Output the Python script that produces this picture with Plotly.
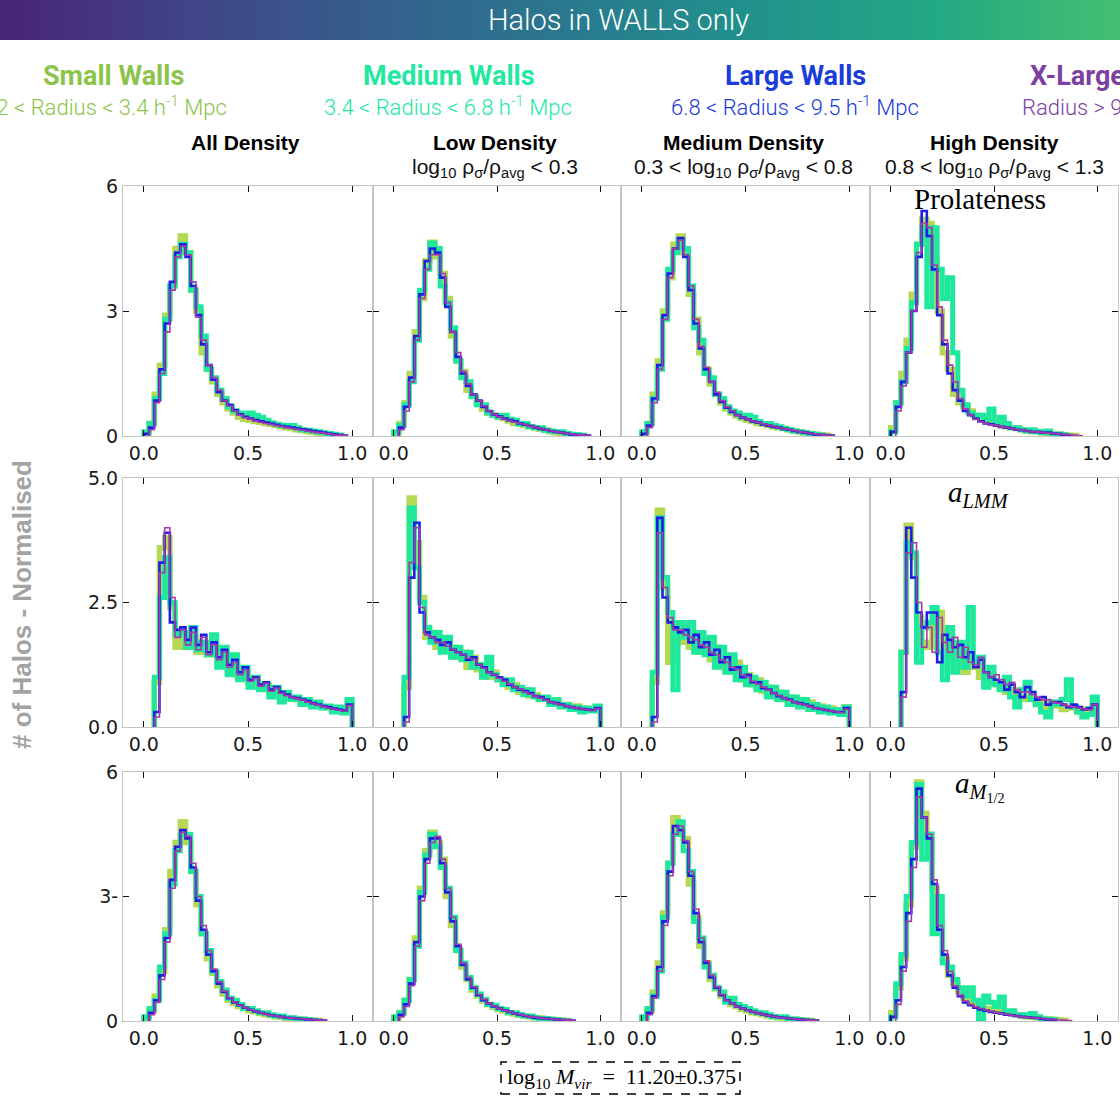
import plotly.graph_objects as go

W, H = 1120, 1097
BIN_WIDTH = 0.025

# ---------------- DATA (normalised histograms, bin width 0.025 starting at 0) ----------------
# Row 1: Prolateness
prol_all_small  = [0.0,0.3,1.0,1.7,2.9,3.6,4.5,4.8,4.4,3.5,3.0,2.0,1.6,1.3,1.0,0.8,0.65,0.55,0.45,0.4,0.38,0.35,0.33,0.3,0.28,0.25,0.22,0.2,0.18,0.15,0.13,0.11,0.09,0.07,0.05,0.04,0.02,0.01]
prol_all_medium = [0.1,0.3,0.9,1.5,2.8,3.6,4.3,4.6,4.4,3.5,3.1,2.4,1.6,1.4,1.1,0.9,0.7,0.6,0.55,0.5,0.55,0.5,0.45,0.38,0.32,0.28,0.26,0.24,0.25,0.2,0.15,0.14,0.12,0.1,0.08,0.06,0.04,0.02]
prol_all_large  = [0.05,0.2,0.85,1.6,2.7,3.7,4.4,4.6,4.3,3.6,2.9,2.2,1.7,1.35,1.05,0.85,0.75,0.62,0.52,0.46,0.42,0.38,0.35,0.32,0.3,0.27,0.24,0.22,0.2,0.18,0.16,0.14,0.12,0.1,0.08,0.06,0.04,0.03,0.01]
prol_all_xlarge = [0.0,0.15,0.8,1.5,2.5,3.5,4.3,4.55,4.35,3.7,2.85,2.3,1.7,1.4,1.1,0.85,0.72,0.6,0.5,0.44,0.4,0.36,0.33,0.3,0.28,0.25,0.23,0.2,0.18,0.16,0.14,0.12,0.1,0.08,0.07,0.05,0.03,0.02,0.01]

prol_low_small  = [0.05,0.3,0.8,1.5,2.5,3.3,4.2,4.65,4.3,3.9,3.3,2.4,1.8,1.55,1.1,0.95,0.8,0.65,0.55,0.5,0.45,0.42,0.36,0.3,0.3,0.25,0.22,0.2,0.16,0.14,0.1,0.08,0.06,0.05,0.03,0.02]
prol_low_medium = [0.1,0.25,0.75,1.3,2.3,3.5,4.0,4.63,4.5,3.6,3.2,2.6,1.8,1.4,1.3,0.95,0.75,0.75,0.55,0.5,0.45,0.5,0.4,0.38,0.28,0.3,0.22,0.2,0.2,0.14,0.12,0.1,0.1,0.06,0.04,0.03,0.02]
prol_low_large  = [0.0,0.2,0.7,1.4,2.4,3.4,4.2,4.5,4.4,3.8,3.1,2.5,1.9,1.5,1.2,1.0,0.85,0.7,0.6,0.52,0.47,0.42,0.38,0.35,0.3,0.27,0.24,0.2,0.17,0.15,0.12,0.1,0.08,0.06,0.04,0.03,0.02,0.01]
prol_low_xlarge = [0.0,0.15,0.6,1.3,2.3,3.3,4.0,4.35,4.35,3.9,3.2,2.5,2.0,1.55,1.25,1.0,0.85,0.72,0.6,0.52,0.46,0.4,0.37,0.33,0.3,0.27,0.23,0.2,0.18,0.15,0.12,0.1,0.08,0.06,0.05,0.03,0.02,0.01]

prol_med_small  = [0.05,0.3,1.0,1.8,3.0,3.8,4.6,4.8,4.4,3.4,2.8,2.0,1.6,1.25,1.0,0.8,0.65,0.55,0.48,0.42,0.38,0.35,0.3,0.28,0.25,0.22,0.2,0.18,0.15,0.12,0.1,0.08,0.06,0.04,0.03,0.02]
prol_med_medium = [0.1,0.3,0.9,1.6,2.8,4.0,4.4,4.7,4.5,3.6,2.6,2.3,1.5,1.4,1.0,0.9,0.7,0.6,0.55,0.45,0.5,0.45,0.35,0.3,0.3,0.25,0.22,0.18,0.15,0.12,0.1,0.08,0.06,0.04,0.02]
prol_med_large  = [0.05,0.25,0.9,1.7,2.9,3.9,4.5,4.75,4.3,3.5,2.7,2.1,1.6,1.3,1.0,0.82,0.68,0.58,0.5,0.44,0.4,0.35,0.32,0.28,0.25,0.22,0.2,0.17,0.15,0.12,0.1,0.08,0.06,0.04,0.03,0.02,0.01]
prol_med_xlarge = [0.0,0.2,0.8,1.6,2.8,3.8,4.5,4.7,4.35,3.6,2.8,2.15,1.65,1.3,1.05,0.85,0.7,0.6,0.5,0.44,0.4,0.36,0.32,0.29,0.26,0.23,0.2,0.17,0.15,0.13,0.1,0.08,0.06,0.05,0.03,0.02,0.01]

prol_high_small  = [0.2,0.8,1.5,2.3,3.4,4.6,5.2,5.1,4.2,3.0,2.0,1.6,1.0,0.8,0.7,0.6,0.5,0.45,0.4,0.35,0.3,0.25,0.22,0.2,0.18,0.15,0.12,0.1,0.1,0.08,0.06,0.05,0.04,0.03,0.02,0.01]
prol_high_medium = [0.1,0.8,1.3,2.1,3.2,4.6,5.0,3.1,5.0,4.0,3.3,3.8,2.0,1.1,0.75,0.55,0.5,0.5,0.4,0.65,0.35,0.45,0.3,0.2,0.2,0.15,0.12,0.15,0.1,0.08,0.12,0.05,0.05,0.03]
prol_high_large  = [0.1,0.7,1.3,2.0,3.0,4.3,5.4,4.8,4.0,2.9,2.2,1.5,1.1,0.85,0.6,0.5,0.42,0.35,0.3,0.28,0.25,0.22,0.2,0.18,0.15,0.14,0.12,0.1,0.1,0.08,0.08,0.06,0.05,0.03,0.02]
prol_high_xlarge = [0.0,0.6,1.2,2.0,3.0,4.4,5.1,5.0,4.1,3.1,2.3,1.7,1.3,0.9,0.65,0.5,0.4,0.34,0.3,0.27,0.25,0.22,0.2,0.18,0.15,0.14,0.12,0.1,0.1,0.08,0.07,0.06,0.05,0.04,0.03,0.02,0.01]

# Row 2: a_LMM
lmm_all_small  = [0,0,0.9,3.6,3.8,2.4,1.6,1.85,1.6,1.8,1.5,1.7,1.45,1.6,1.3,1.5,1.15,1.3,1.0,1.1,0.9,0.95,0.8,0.85,0.72,0.75,0.65,0.62,0.58,0.55,0.52,0.5,0.45,0.43,0.4,0.38,0.36,0.34,0.3,0.42]
lmm_all_medium = [0,0,1.0,2.6,3.4,2.5,1.85,1.9,1.6,2.0,1.55,1.7,1.45,1.85,1.2,1.6,1.05,1.45,0.95,1.2,0.8,1.0,0.75,0.85,0.6,0.8,0.5,0.7,0.55,0.6,0.45,0.55,0.4,0.5,0.38,0.42,0.3,0.4,0.28,0.55]
lmm_all_large  = [0,0,0.3,3.3,3.9,2.1,1.95,2.0,1.75,2.0,1.65,1.85,1.5,1.7,1.4,1.55,1.25,1.35,1.1,1.2,0.95,1.0,0.85,0.9,0.75,0.8,0.7,0.65,0.6,0.58,0.55,0.52,0.48,0.45,0.42,0.4,0.37,0.35,0.33,0.45]
lmm_all_xlarge = [0,0,0.2,3.1,4.0,2.6,1.8,1.95,1.65,1.9,1.55,1.8,1.45,1.65,1.35,1.5,1.2,1.3,1.05,1.15,0.92,0.98,0.82,0.88,0.72,0.78,0.68,0.63,0.6,0.57,0.54,0.5,0.47,0.44,0.41,0.38,0.36,0.34,0.32,0.43]

lmm_low_small  = [0,0,0.8,4.6,3.7,2.6,1.8,1.9,1.6,1.75,1.55,1.6,1.4,1.5,1.2,1.4,1.15,1.25,1.0,1.1,0.95,0.9,0.8,0.85,0.7,0.75,0.62,0.65,0.55,0.58,0.5,0.52,0.45,0.45,0.4,0.42,0.38,0.36,0.35,0.4]
lmm_low_medium = [0,0,1.0,4.4,3.2,2.5,2.0,1.7,1.9,1.5,1.8,1.4,1.6,1.35,1.5,1.2,1.25,1.0,1.4,1.05,0.95,0.85,0.95,0.75,0.8,0.65,0.75,0.6,0.55,0.6,0.45,0.55,0.4,0.45,0.35,0.4,0.3,0.38,0.32,0.42]
lmm_low_large  = [0,0,0.2,3.0,4.1,2.3,1.9,1.8,1.75,1.65,1.7,1.55,1.5,1.45,1.35,1.4,1.25,1.2,1.1,1.05,1.0,0.95,0.85,0.8,0.75,0.72,0.68,0.62,0.6,0.55,0.5,0.48,0.45,0.42,0.4,0.38,0.36,0.35,0.34,0.38]
lmm_low_xlarge = [0,0,0.1,3.3,4.0,2.4,1.85,1.8,1.7,1.7,1.62,1.55,1.5,1.45,1.38,1.35,1.25,1.18,1.1,1.05,0.98,0.92,0.86,0.8,0.76,0.7,0.66,0.62,0.58,0.54,0.5,0.47,0.44,0.42,0.4,0.38,0.36,0.35,0.33,0.37]

lmm_med_small  = [0,0,0.9,4.35,2.8,1.3,2.0,1.7,2.0,1.6,1.8,1.5,1.75,1.35,1.6,1.25,1.4,1.1,1.3,0.95,1.05,0.85,0.95,0.72,0.8,0.65,0.7,0.55,0.6,0.48,0.55,0.45,0.5,0.4,0.42,0.35,0.38,0.3,0.32,0.4]
lmm_med_medium = [0,0,1.1,4.2,3.0,2.3,0.75,2.1,1.8,2.1,1.5,1.9,1.45,1.8,1.2,1.6,1.1,1.45,0.95,1.2,0.85,1.0,0.75,0.9,0.6,0.8,0.55,0.7,0.45,0.6,0.4,0.55,0.35,0.45,0.3,0.4,0.28,0.35,0.25,0.4]
lmm_med_large  = [0,0,0.2,4.2,2.6,2.1,2.0,1.9,1.95,1.7,1.85,1.6,1.7,1.45,1.55,1.3,1.4,1.15,1.2,1.0,1.05,0.9,0.9,0.78,0.75,0.68,0.62,0.58,0.55,0.5,0.48,0.45,0.42,0.38,0.36,0.34,0.32,0.3,0.3,0.38]
lmm_med_xlarge = [0,0,0.1,3.9,2.8,2.2,1.95,1.95,1.85,1.8,1.75,1.65,1.6,1.5,1.45,1.35,1.3,1.2,1.15,1.05,1.0,0.92,0.86,0.8,0.74,0.68,0.63,0.58,0.54,0.5,0.47,0.44,0.41,0.38,0.36,0.34,0.32,0.3,0.29,0.36]

lmm_high_small  = [0,0,1.5,4.05,3.4,2.2,1.7,1.6,2.0,2.3,1.6,1.8,1.3,1.5,1.1,1.3,1.2,1.0,0.95,1.05,0.9,0.8,0.7,0.75,0.65,0.6,0.55,0.58,0.45,0.5,0.4,0.48,0.42,0.35,0.38,0.4,0.3,0.36,0.32,0.42]
lmm_high_medium = [0,0,1.5,3.7,3.5,1.3,2.0,2.1,2.4,1.5,0.95,2.0,1.1,1.7,1.2,2.4,1.3,1.4,0.8,1.2,0.85,0.75,1.0,0.6,0.4,0.75,0.9,0.55,0.45,0.3,0.2,0.5,0.45,0.55,0.95,0.4,0.3,0.2,0.25,0.6]
lmm_high_large  = [0,0,0.7,4.0,3.0,2.3,2.0,2.3,2.3,1.3,1.85,1.75,1.6,1.65,1.4,1.5,1.2,1.35,1.1,1.0,0.95,0.9,0.75,0.85,0.7,0.6,0.8,0.7,0.55,0.6,0.45,0.5,0.5,0.45,0.4,0.45,0.4,0.35,0.38,0.45]
lmm_high_xlarge = [0,0,0.6,3.5,3.7,2.5,1.6,2.0,1.5,2.2,1.7,1.5,1.8,1.4,1.6,1.3,1.25,1.4,1.1,1.0,1.05,0.95,0.85,0.9,0.75,0.7,0.7,0.65,0.6,0.55,0.55,0.5,0.48,0.45,0.42,0.4,0.38,0.36,0.34,0.45]

# Row 3: a_M1/2
mhalf_all_small  = [0.05,0.25,0.6,1.2,2.2,3.6,4.3,4.8,4.3,3.6,2.8,2.1,1.5,1.15,0.85,0.65,0.5,0.42,0.35,0.3,0.25,0.22,0.18,0.15,0.13,0.1,0.09,0.07,0.06,0.05,0.04,0.03,0.02,0.01]
mhalf_all_medium = [0.1,0.3,0.5,1.3,2.1,3.3,4.1,4.5,4.5,3.6,3.0,2.1,1.7,1.2,0.95,0.75,0.55,0.5,0.4,0.3,0.3,0.25,0.2,0.2,0.15,0.12,0.12,0.08,0.08,0.05,0.05,0.03,0.02]
mhalf_all_large  = [0.0,0.2,0.5,1.1,2.0,3.4,4.2,4.6,4.4,3.7,2.9,2.2,1.6,1.2,0.9,0.7,0.55,0.45,0.38,0.32,0.27,0.23,0.2,0.17,0.14,0.12,0.1,0.08,0.07,0.06,0.05,0.04,0.03,0.02,0.01]
mhalf_all_xlarge = [0.0,0.15,0.45,1.0,1.9,3.2,4.1,4.55,4.45,3.8,3.0,2.3,1.7,1.25,0.95,0.72,0.56,0.46,0.38,0.32,0.27,0.23,0.2,0.17,0.14,0.12,0.1,0.08,0.07,0.06,0.05,0.04,0.03,0.02,0.01]

mhalf_low_small  = [0.05,0.2,0.5,1.0,2.0,3.2,4.1,4.55,4.3,3.9,3.0,2.3,1.7,1.3,1.0,0.75,0.6,0.48,0.4,0.33,0.28,0.24,0.2,0.17,0.14,0.12,0.1,0.08,0.07,0.05,0.04,0.03,0.02,0.01]
mhalf_low_medium = [0.1,0.2,0.5,1.0,1.8,3.1,4.0,4.5,4.2,3.7,3.2,2.5,1.7,1.4,1.05,0.8,0.65,0.52,0.4,0.38,0.3,0.28,0.2,0.2,0.15,0.12,0.12,0.08,0.06,0.06,0.04,0.03,0.02]
mhalf_low_large  = [0.0,0.15,0.4,0.9,1.9,3.0,3.9,4.4,4.4,3.8,3.1,2.4,1.8,1.35,1.0,0.8,0.62,0.5,0.42,0.35,0.3,0.26,0.22,0.18,0.15,0.12,0.1,0.08,0.07,0.06,0.05,0.04,0.03,0.02,0.01]
mhalf_low_xlarge = [0.0,0.1,0.35,0.85,1.8,2.9,3.8,4.3,4.45,3.9,3.2,2.5,1.85,1.4,1.05,0.82,0.64,0.52,0.43,0.36,0.3,0.26,0.22,0.18,0.15,0.13,0.1,0.09,0.07,0.06,0.05,0.04,0.03,0.02,0.01]

mhalf_med_small  = [0.05,0.25,0.7,1.4,2.6,3.8,4.9,4.5,4.4,3.3,2.5,1.8,1.4,1.0,0.78,0.6,0.5,0.4,0.35,0.28,0.25,0.2,0.18,0.15,0.12,0.1,0.08,0.07,0.05,0.04,0.03,0.02,0.01]
mhalf_med_medium = [0.1,0.3,0.6,1.2,2.5,3.8,4.5,4.8,4.1,3.6,2.4,2.0,1.3,1.1,0.8,0.7,0.45,0.55,0.4,0.35,0.3,0.25,0.2,0.2,0.15,0.1,0.1,0.1,0.05,0.05,0.03,0.02]
mhalf_med_large  = [0.0,0.2,0.6,1.3,2.4,3.6,4.7,4.6,4.3,3.5,2.6,1.9,1.4,1.05,0.8,0.62,0.5,0.42,0.35,0.3,0.26,0.22,0.19,0.16,0.13,0.11,0.09,0.08,0.06,0.05,0.04,0.03,0.02,0.01]
mhalf_med_xlarge = [0.0,0.15,0.55,1.2,2.3,3.5,4.5,4.7,4.35,3.6,2.7,2.0,1.45,1.1,0.82,0.64,0.5,0.42,0.35,0.3,0.26,0.22,0.19,0.16,0.13,0.11,0.09,0.08,0.06,0.05,0.04,0.03,0.02,0.01]

mhalf_high_small  = [0.2,0.8,1.5,2.8,4.2,5.76,5.0,4.5,3.2,2.4,1.5,1.1,0.9,0.7,0.55,0.45,0.4,0.35,0.3,0.28,0.25,0.22,0.2,0.18,0.15,0.12,0.1,0.09,0.08,0.06,0.05,0.04,0.03,0.02]
mhalf_high_medium = [0.1,0.9,1.6,3.0,4.3,5.7,3.9,4.5,2.1,3.0,1.4,1.3,1.0,0.8,0.6,0.8,0.5,0.0,0.6,0.45,0.35,0.58,0.2,0.25,0.15,0.15,0.12,0.18,0.1,0.05,0.05,0.03]
mhalf_high_large  = [0.1,0.5,1.3,2.6,3.9,5.6,4.9,4.4,3.3,2.2,1.6,1.1,0.8,0.6,0.45,0.38,0.32,0.28,0.25,0.22,0.2,0.18,0.15,0.14,0.12,0.1,0.09,0.08,0.07,0.05,0.04,0.03]
mhalf_high_xlarge = [0.0,0.4,1.2,2.4,3.7,5.4,4.9,4.5,3.4,2.3,1.7,1.2,0.85,0.62,0.48,0.4,0.34,0.3,0.26,0.23,0.2,0.18,0.16,0.14,0.12,0.1,0.09,0.08,0.07,0.06,0.05,0.04,0.03,0.02,0.01]

# Labels
group_titles = ["Small Walls", "Medium Walls", "Large Walls", "X-Large Walls"]
group_ranges = ["1.2 &lt; Radius &lt; 3.4 h<sup>-1</sup> Mpc",
                "3.4 &lt; Radius &lt; 6.8 h<sup>-1</sup> Mpc",
                "6.8 &lt; Radius &lt; 9.5 h<sup>-1</sup> Mpc",
                "Radius &gt; 9.5 h<sup>-1</sup> Mpc"]
col_titles = ["All Density", "Low Density", "Medium Density", "High Density"]
col_subtitles = ["",
                 "log<sub>10</sub> ρ<sub>σ</sub>/ρ<sub>avg</sub> &lt; 0.3",
                 "0.3 &lt; log<sub>10</sub> ρ<sub>σ</sub>/ρ<sub>avg</sub> &lt; 0.8",
                 "0.8 &lt; log<sub>10</sub> ρ<sub>σ</sub>/ρ<sub>avg</sub> &lt; 1.3"]
row_labels = ["Prolateness", "<i>a</i><sub><i>LMM</i></sub>", "<i>a</i><sub><i>M</i><sub>1/2</sub></sub>"]
row_ymax = [6, 5, 6]
row_yticks = [[0, 3, 6], [0, 2.5, 5], [0, 3, 6]]
row_yticktext = [["0", "3", "6"], ["0.0", "2.5", "5.0"], ["0", "3-", "6"]]
x_tickvals = [0, 0.5, 1.0]
x_ticktext = ["0.0", "0.5", "1.0"]

panels = [
    [(prol_all_small, prol_all_medium, prol_all_large, prol_all_xlarge),
     (prol_low_small, prol_low_medium, prol_low_large, prol_low_xlarge),
     (prol_med_small, prol_med_medium, prol_med_large, prol_med_xlarge),
     (prol_high_small, prol_high_medium, prol_high_large, prol_high_xlarge)],
    [(lmm_all_small, lmm_all_medium, lmm_all_large, lmm_all_xlarge),
     (lmm_low_small, lmm_low_medium, lmm_low_large, lmm_low_xlarge),
     (lmm_med_small, lmm_med_medium, lmm_med_large, lmm_med_xlarge),
     (lmm_high_small, lmm_high_medium, lmm_high_large, lmm_high_xlarge)],
    [(mhalf_all_small, mhalf_all_medium, mhalf_all_large, mhalf_all_xlarge),
     (mhalf_low_small, mhalf_low_medium, mhalf_low_large, mhalf_low_xlarge),
     (mhalf_med_small, mhalf_med_medium, mhalf_med_large, mhalf_med_xlarge),
     (mhalf_high_small, mhalf_high_medium, mhalf_high_large, mhalf_high_xlarge)],
]

# ---------------- STYLE ----------------
series_colors = ["#b6d955", "#1ee89b", "#1d1de6", "#a63aa8"]
series_widths = [5.5, 5, 2.6, 1.6]
title_colors = ["#8cc44a", "#22e8a0", "#1a3cd8", "#7d3fa0"]

col_px = [(123, 373), (373, 621), (621, 870), (870, 1118)]
row_px = [(186, 436), (478, 727), (772, 1021)]


def px_x(p):
    return p / W


def px_y(p):
    return 1 - p / H


def step_xy(vals):
    first = 0
    while first < len(vals) - 1 and vals[first] == 0:
        first += 1
    edges = [i * BIN_WIDTH for i in range(len(vals) + 1)]
    xs = [edges[first]] + edges[first:]
    ys = [0] + list(vals[first:]) + [0]
    return xs, ys


fig = go.Figure()
layout = dict(
    width=W, height=H, autosize=False,
    margin=dict(l=0, r=0, t=0, b=0, pad=0, autoexpand=False),
    paper_bgcolor="white", plot_bgcolor="white", showlegend=False,
)

for r in range(3):
    for c in range(4):
        k = r * 4 + c + 1
        xa = "x" if k == 1 else f"x{k}"
        ya = "y" if k == 1 else f"y{k}"
        for s in range(4):
            xs, ys = step_xy(panels[r][c][s])
            fig.add_trace(go.Scatter(
                x=xs, y=ys, mode="lines", line_shape="hv",
                line=dict(color=series_colors[s], width=series_widths[s]),
                xaxis=xa, yaxis=ya, hoverinfo="skip"))
        layout["xaxis" if k == 1 else f"xaxis{k}"] = dict(
            domain=[px_x(col_px[c][0]), px_x(col_px[c][1])], anchor=ya,
            range=[-0.1, 1.1], tickvals=x_tickvals, ticktext=x_ticktext,
            ticks="inside", ticklen=6, tickcolor="#111", tickwidth=1,
            showline=True, linecolor="#c4c4c4", linewidth=1, mirror="ticks",
            showgrid=False, zeroline=False, automargin=False,
            tickfont=dict(family="DejaVu Sans", size=19, color="#1a1a1a"))
        layout["yaxis" if k == 1 else f"yaxis{k}"] = dict(
            domain=[px_y(row_px[r][1]), px_y(row_px[r][0])], anchor=xa,
            range=[0, row_ymax[r]], tickvals=row_yticks[r], ticktext=row_yticktext[r],
            showticklabels=(c == 0),
            ticks="inside", ticklen=6, tickcolor="#111", tickwidth=1,
            showline=True, linecolor="#c4c4c4", linewidth=1, mirror="ticks",
            showgrid=False, zeroline=False, automargin=False,
            tickfont=dict(family="DejaVu Sans", size=19, color="#1a1a1a"))

# gradient banner
fig.add_trace(go.Heatmap(
    x=[0, 1], y=[0, 1], z=[[0, 1], [0, 1]], zsmooth="best", showscale=False,
    colorscale=[[0, "#482475"], [1/6, "#414487"], [2/6, "#355f8d"], [3/6, "#2a788e"],
                [4/6, "#21918c"], [5/6, "#22a884"], [1, "#44bf70"]],
    xaxis="x13", yaxis="y13", hoverinfo="skip"))
layout["xaxis13"] = dict(domain=[0, 1], range=[0, 1], visible=False, anchor="y13")
layout["yaxis13"] = dict(domain=[px_y(40), 1], range=[0, 1], visible=False, anchor="x13")


def note(text, x, y, size, color, family, xanchor="center", weight=None, **kw):
    f = dict(family=family, size=size, color=color)
    if weight is not None:
        f["weight"] = weight
    d = dict(text=text, x=px_x(x), y=px_y(y), xref="paper", yref="paper",
             xanchor=xanchor, yanchor="middle", showarrow=False, font=f)
    d.update(kw)
    return d


ann = [note("Halos in WALLS only", 618, 20, 29, "white", "Roboto", weight=300)]

# group headers
title_pos = [(113, "center"), (449, "center"), (795, "center"), (1028, "left")]
range_pos = [(229, "right"), (448, "center"), (795, "center"), (1020, "left")]
for i in range(4):
    ann.append(note(f"<b>{group_titles[i]}</b>", title_pos[i][0], 76, 27, title_colors[i],
                    "Roboto", xanchor=title_pos[i][1]))
    ann.append(note(group_ranges[i], range_pos[i][0], 106, 22, title_colors[i],
                    "Roboto", xanchor=range_pos[i][1], weight=300))

col_centers = [245, 495, 743, 994]
for c in range(4):
    ann.append(note(f"<b>{col_titles[c]}</b>", col_centers[c], 143, 21, "black", "Liberation Sans"))
    if col_subtitles[c]:
        ann.append(note(col_subtitles[c], col_centers[c], 168, 21, "#111", "Liberation Sans"))

label_pos = [(980, 199), (978, 494), (980, 786)]
for r in range(3):
    ann.append(note(row_labels[r], label_pos[r][0], label_pos[r][1], 29, "black", "Liberation Serif"))

ann.append(note("<b># of Halos - Normalised</b>", 22, 605, 26, "#a3a3a3", "Liberation Sans",
                textangle=-90))

ann.append(note("log<sub>10</sub> <i>M</i><sub><i>vir</i></sub>  =  11.20±0.375", 621, 1078, 22,
                "black", "Liberation Serif"))

layout["annotations"] = ann
layout["shapes"] = [dict(type="rect", xref="paper", yref="paper",
                         x0=px_x(501), x1=px_x(740), y0=px_y(1094), y1=px_y(1062),
                         line=dict(color="black", width=1.5, dash="dash"))]

fig.update_layout(**layout)
fig.write_html("out.html")
